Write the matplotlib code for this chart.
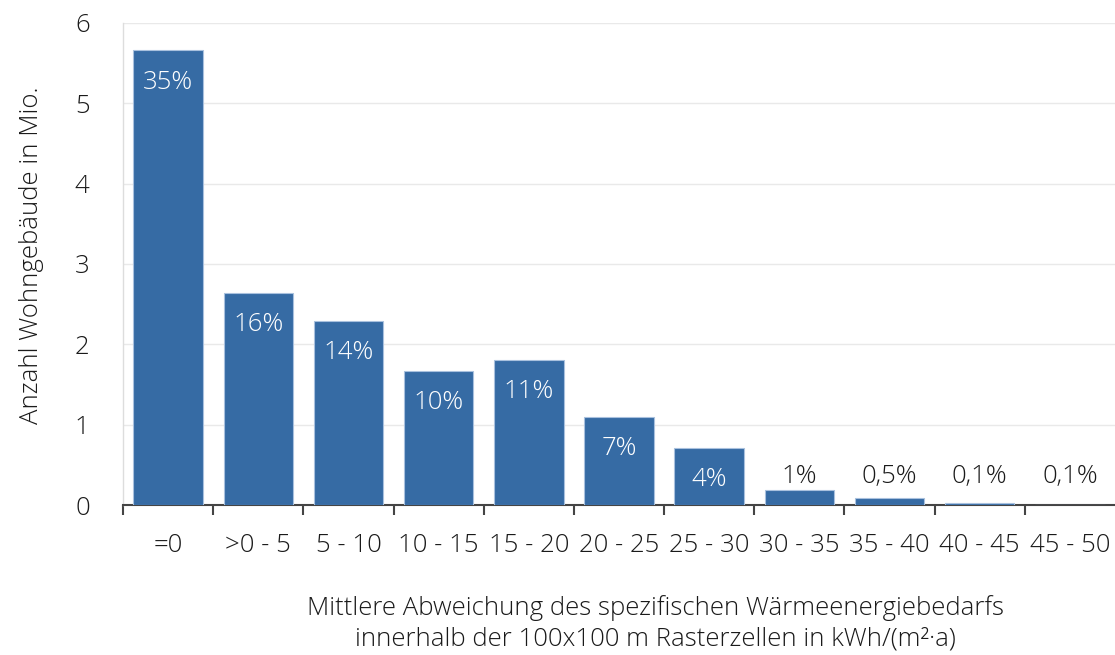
import matplotlib
matplotlib.use("Agg")
import matplotlib.pyplot as plt

categories = ["=0", ">0 - 5", "5 - 10", "10 - 15", "15 - 20", "20 - 25",
              "25 - 30", "30 - 35", "35 - 40", "40 - 45", "45 - 50"]
values = [5.66, 2.64, 2.29, 1.67, 1.81, 1.10, 0.71, 0.19, 0.09, 0.02, 0.006]
labels = ["35%", "16%", "14%", "10%", "11%", "7%", "4%", "1%", "0,5%", "0,1%", "0,1%"]
inside = [True, True, True, True, True, True, True, False, False, False, False]

plt.rcParams['font.family'] = ['Open Sans', 'DejaVu Sans']
FS = 18.5
FW = "light"

fig = plt.figure(figsize=(11.15, 6.55), dpi=100)
ax = fig.add_axes([0.1103, 0.229, 0.8897, 0.736])

bar_color = "#366ba4"
text_color = "#1a1a1a"
x = list(range(len(categories)))
ax.bar(x, values, width=0.77, color=bar_color, edgecolor="#a9c1de", linewidth=0.8, zorder=3)

for xi, v, lab, ins in zip(x, values, labels, inside):
    if ins:
        ax.annotate(lab, (xi, v), xytext=(0, -23), textcoords="offset points",
                    ha="center", va="center", color="white", fontsize=FS, fontweight=FW)
    else:
        ax.text(xi, 0.36, lab, ha="center", va="center", color=text_color,
                fontsize=FS, fontweight=FW)

ax.set_xlim(-0.5, 10.5)
ax.set_ylim(0, 6)
ax.set_yticks(range(0, 7))
ax.yaxis.grid(True, color="#e9e9e9", linewidth=1, zorder=0)
ax.set_axisbelow(True)

ax.set_xticks(x)
ax.set_xticklabels(categories, fontsize=FS, color=text_color, fontweight=FW)
ax.tick_params(axis="x", length=0, pad=20)
ax.set_xticks([i - 0.5 for i in range(len(categories))], minor=True)
ax.tick_params(axis="x", which="minor", length=7, width=1.5, color="#444444")
ax.tick_params(axis="y", length=0, labelsize=FS, labelcolor=text_color, pad=24)
for t in ax.get_yticklabels():
    t.set_fontweight(FW)

for s in ["top", "right"]:
    ax.spines[s].set_visible(False)
ax.spines["left"].set_color("#dddddd")
ax.spines["left"].set_linewidth(1)
ax.spines["bottom"].set_color("#444444")
ax.spines["bottom"].set_linewidth(1.5)

ax.set_ylabel("Anzahl Wohngebäude in Mio.", fontsize=FS, color=text_color,
              labelpad=22, fontweight=FW, y=0.519)
ax.set_xlabel("Mittlere Abweichung des spezifischen Wärmeenergiebedarfs\n"
              "innerhalb der 100x100 m Rasterzellen in kWh/(m²·a)",
              fontsize=FS, color=text_color, labelpad=27, linespacing=1.3,
              fontweight=FW, x=0.537)

fig.savefig("out.png", dpi=100)
